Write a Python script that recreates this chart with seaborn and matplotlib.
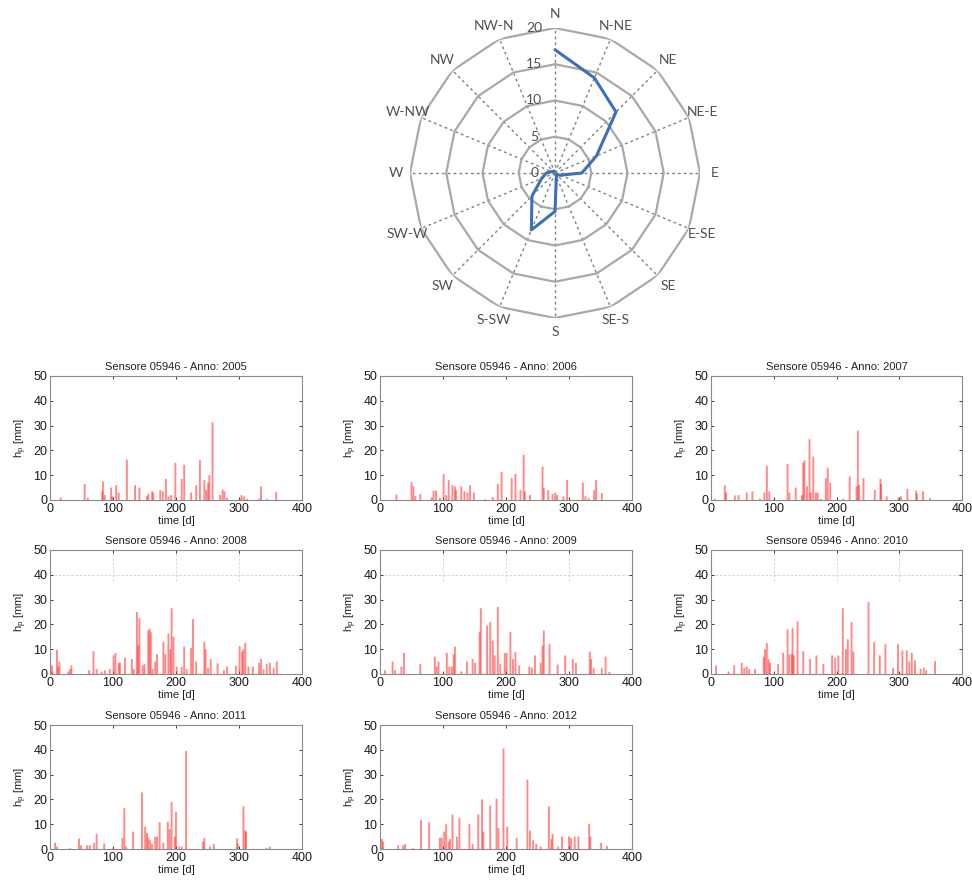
import numpy as np
import pandas as pd
import matplotlib
matplotlib.use('Agg')
import matplotlib.pyplot as plt
import seaborn as sns

# ---------------- data ----------------
directions = ['N', 'N-NE', 'NE', 'NE-E', 'E', 'E-SE', 'SE', 'SE-S',
              'S', 'S-SW', 'SW', 'SW-W', 'W', 'W-NW', 'NW', 'NW-N']
wind_freq = [17.0, 14.2, 11.9, 6.2, 3.7, 0.8, 0.3, 0.5,
             5.3, 8.5, 4.5, 2.0, 1.2, 0.5, 0.3, 0.3]
radial_ticks = [0, 5, 10, 15, 20]

years = [2005, 2006, 2007, 2008, 2009, 2010, 2011, 2012]

days_2005 = [17, 55, 60, 83, 84, 87, 97, 99, 105, 109, 122, 135, 142, 154, 156, 162, 164, 175, 179, 184,
             188, 192, 199, 209, 213, 224, 232, 238, 245, 248, 251, 253, 258, 270, 274, 277, 281, 302, 304,
             308, 313, 332, 335, 344, 359]
rain_2005 = [1, 6.5, 1, 3.5, 7.5, 2, 5, 1.5, 6, 3, 16.3, 6, 5, 1.5, 2.5, 3.5, 3, 4, 3.5, 8.5,
             1.5, 2, 15, 8.5, 14.2, 3, 6, 16, 8, 4, 7, 10, 31.3, 2, 4.2, 3.5, 1, 0.5, 2,
             1.5, 0.5, 0.5, 5.5, 0.5, 3.2]

days_2006 = [26, 50, 53, 56, 64, 82, 85, 89, 95, 101, 105, 109, 115, 119, 121, 129, 134, 139, 143, 149,
             167, 179, 187, 193, 209, 215, 223, 228, 230, 238, 258, 260, 267, 274, 278, 281, 291, 297,
             322, 326, 331, 340, 343, 352]
rain_2006 = [2.2, 7.2, 5.5, 1.5, 2.5, 1, 3.8, 3.8, 0.8, 10.5, 2, 8, 6, 5.5, 4, 5.5, 3.5, 3, 6, 3,
             0.3, 1.2, 6.5, 11.3, 8.8, 10.5, 4, 18.2, 3.5, 2, 13.5, 5, 4, 2.5, 3, 2, 1.5, 8,
             7, 1.5, 0.8, 4, 8, 2.8]

days_2007 = [6, 22, 24, 38, 44, 57, 66, 78, 85, 89, 93, 101, 122, 125, 135, 145, 147, 149, 153, 157,
             159, 163, 167, 170, 175, 183, 186, 190, 211, 221, 232, 234, 236, 243, 261, 270, 271, 280,
             299, 303, 313, 327, 328, 338, 349]
rain_2007 = [0.5, 6, 3, 1.8, 2, 3, 3.5, 0.5, 3, 13.8, 3.5, 0.5, 14.5, 3, 5, 2, 15, 16, 5.5, 24.5,
             3, 17.5, 3, 3, 0.5, 8.8, 13, 7, 0.5, 9.5, 5.5, 28, 6, 8.8, 4, 8.5, 6.5, 1.5,
             1, 1.5, 4.5, 3.8, 2.5, 3.5, 0.8]

days_2008 = [3, 4, 11, 13, 15, 29, 32, 34, 62, 69, 74, 82, 87, 95, 101, 104, 109, 111, 119, 130, 133,
             138, 140, 142, 147, 150, 156, 158, 160, 163, 167, 170, 180, 183, 188, 191, 193, 196, 201,
             209, 213, 217, 224, 227, 232, 245, 247, 251, 255, 266, 276, 281, 295, 301, 305, 307, 310,
             315, 322, 332, 335, 339, 344, 349, 355, 360]
rain_2008 = [3.5, 1, 9.8, 3, 5, 1, 2, 3.5, 1.5, 9.2, 2, 1, 1.5, 2, 7.5, 8.5, 4.5, 4.5, 6.5, 6, 2,
             25, 11.5, 22.5, 3.5, 4, 17.5, 18.3, 16.8, 2, 5, 8, 13, 8, 16.3, 10, 26.5, 15, 3,
             2.8, 11, 2, 10.5, 22.2, 5, 13, 10, 2.5, 6, 4.3, 1.5, 3, 3.3, 11.2, 9, 10, 12.5,
             3, 3, 4.5, 6, 2, 4, 4.5, 2.5, 5]

days_2009 = [8, 20, 24, 34, 38, 64, 87, 90, 93, 106, 110, 114, 117, 119, 129, 138, 147, 151, 158, 160,
             170, 175, 179, 182, 187, 191, 198, 201, 207, 211, 215, 221, 237, 241, 246, 255, 258, 260,
             269, 282, 294, 306, 311, 333, 335, 339, 352, 358, 364]
rain_2009 = [1.5, 5, 1.5, 3, 8.5, 4, 7, 3, 5, 8.5, 3, 3, 8, 11, 1, 5, 6, 4.5, 17, 26.5,
             19.5, 21, 13.5, 7.5, 27, 4, 8.5, 8.5, 17, 6, 8.8, 3.5, 3, 2.5, 7.5, 4.5, 11.5, 17.5,
             12, 3.8, 7.5, 6, 4.5, 9, 6, 2.5, 2.5, 7, 0.8]

days_2010 = [8, 28, 37, 49, 53, 57, 61, 70, 84, 86, 89, 92, 94, 107, 115, 122, 125, 129, 130, 132,
             138, 147, 158, 168, 179, 193, 198, 203, 210, 215, 218, 224, 227, 251, 260, 269, 278, 290,
             298, 305, 312, 316, 320, 325, 334, 339, 343, 357]
rain_2010 = [3.5, 1, 3.5, 4.5, 2.5, 3, 2, 2, 7, 10, 12.5, 6, 4.5, 4, 8.5, 18, 8, 8, 18.5, 7.5,
             21.2, 9.2, 6, 7.5, 4, 7.5, 6.5, 7.5, 26.5, 10, 14, 21, 9, 29, 12.8, 7.5, 12, 2.5,
             12.2, 9.5, 9.5, 5, 8.5, 5.5, 2, 2.5, 1.5, 5.2]

days_2011 = [8, 11, 32, 46, 49, 59, 63, 70, 74, 86, 100, 115, 118, 121, 132, 146, 151, 154, 156, 159,
             162, 167, 170, 174, 180, 187, 190, 193, 198, 200, 205, 209, 216, 243, 245, 254, 260, 297,
             298, 307, 310, 311, 344, 349]
rain_2011 = [2.5, 1, 0.3, 4.2, 1.5, 1.5, 1.5, 2.5, 6, 2.2, 0.3, 4.5, 16.5, 1, 7, 22.8, 9, 6.5, 4.5, 3.5,
             2, 5, 5, 10.8, 2.5, 11, 8, 19, 5, 15, 1, 1, 39.5, 3, 4.5, 1, 2, 4.3,
             2, 17.2, 7.5, 7, 0.5, 1]

days_2012 = [3, 5, 29, 37, 40, 52, 65, 78, 95, 98, 102, 105, 109, 111, 115, 122, 126, 142, 147, 156,
             162, 164, 175, 185, 188, 196, 202, 217, 234, 238, 243, 248, 255, 268, 272, 274, 283, 289,
             300, 303, 309, 315, 332, 334, 351, 360]
rain_2012 = [4, 3, 1.5, 1.5, 2, 0.3, 11.8, 10.8, 4.5, 4.5, 7, 10, 3, 4, 13.8, 5, 12.5, 10, 2, 14,
             20, 7, 17.5, 20.3, 8.5, 40.5, 9, 4.5, 28, 7.5, 3.5, 2, 1, 17.2, 4, 6, 1, 5,
             5, 4.5, 5, 5, 10.2, 5, 2.5, 1.2]

x_ticks = [0, 100, 200, 300, 400]
y_ticks = [0, 10, 20, 30, 40, 50]

rain_days = [days_2005, days_2006, days_2007, days_2008, days_2009, days_2010, days_2011, days_2012]
rain_vals = [rain_2005, rain_2006, rain_2007, rain_2008, rain_2009, rain_2010, rain_2011, rain_2012]

# ---------------- figure ----------------
sns.set_theme(style='white')
plt.rcParams['font.family'] = ['Liberation Sans', 'DejaVu Sans']
plt.rcParams['mathtext.default'] = 'regular'

W, H = 972, 882
fig = plt.figure(figsize=(W / 100, H / 100), dpi=100)
fig.patch.set_facecolor('white')

# ---- polar (wind rose) ----
cx, cy, R = 555, 173, 145
axp = fig.add_axes([(cx - R) / W, (H - cy - R) / H, 2 * R / W, 2 * R / H], projection='polar')
axp.set_facecolor('none')
axp.set_theta_zero_location('N')
axp.set_theta_direction(-1)
theta = np.deg2rad(np.arange(len(directions)) * 22.5)
axp.set_ylim(0, radial_ticks[-1])
axp.set_yticks([])
axp.set_xticks(theta)
axp.set_xticklabels([])
axp.xaxis.grid(True, linestyle=(0, (2, 2.2)), color='#808080', lw=1.0)
axp.yaxis.grid(False)
axp.spines['polar'].set_visible(False)
theta_c = np.append(theta, theta[0])
for r in radial_ticks[1:]:
    axp.plot(theta_c, [r] * len(theta_c), color='#a8a8a8', lw=1.6, zorder=1)
for th, lab in zip(theta, directions):
    axp.text(th, radial_ticks[-1] * 1.1, lab, ha='center', va='center', fontsize=10,
             color='#505050', family=['Lato', 'DejaVu Sans'], clip_on=False)
for v in radial_ticks:
    axp.annotate(str(v), xy=(0, v), xytext=(-15, 0), textcoords='offset points',
                 ha='center', va='center', fontsize=10, color='#505050',
                 family=['Lato', 'DejaVu Sans'], zorder=5)
wind_df = pd.DataFrame({'theta': theta_c, 'freq': np.append(wind_freq, wind_freq[0])})
sns.lineplot(data=wind_df, x='theta', y='freq', sort=False, ax=axp, color='#3d70b5', lw=2.2, zorder=4)
axp.set_xlabel('')
axp.set_ylabel('')

# ---- rain subplots ----
col_left = [50, 380, 711]
col_w = [252, 252, 251]
row_top = [376, 550, 725]
ax_h = 124

for i, (yr, d, v) in enumerate(zip(years, rain_days, rain_vals)):
    rr, cc = divmod(i, 3)
    l = col_left[cc]
    t = row_top[rr]
    ax = fig.add_axes([l / W, (H - t - ax_h) / H, col_w[cc] / W, ax_h / H])
    df = pd.DataFrame({'day': d, 'hp': v})
    sns.barplot(data=df, x='day', y='hp', native_scale=True, orient='x', color='red',
                saturation=1, errorbar=None, ax=ax, linewidth=0, edgecolor='none')
    for ln in list(ax.lines):
        ln.remove()
    for p in ax.patches:
        c = p.get_x() + p.get_width() / 2
        p.set_width(3.0)
        p.set_x(c - 1.5)
        p.set_facecolor((1.0, 0.15, 0.15, 0.55))
        p.set_edgecolor('none')
        p.set_linewidth(0)
        p.set_snap(False)
    ax.set_xlim(x_ticks[0], x_ticks[-1])
    ax.set_ylim(y_ticks[0], y_ticks[-1])
    ax.set_xticks(x_ticks)
    ax.set_yticks(y_ticks)
    ax.tick_params(direction='in', length=2.5, width=0.6, labelsize=9, pad=2,
                   top=True, right=True, bottom=True, left=True, colors='#1a1a1a')
    for s in ax.spines.values():
        s.set_color('#8a8a8a')
        s.set_linewidth(0.8)
    ax.set_title(f'Sensore 05946 - Anno: {yr}', fontsize=8, pad=4, color='#222222')
    ax.set_xlabel('time [d]', fontsize=8, labelpad=1, color='#222222')
    ax.set_ylabel(r'h$_p$ [mm]', fontsize=8, labelpad=3, color='#222222')
    if rr == 1:
        ax.vlines(x_ticks[1:-1], 37.5, y_ticks[-1], colors='#d0d0d0', linestyles=(0, (3, 2)), lw=0.6, zorder=0)
        ax.hlines(y_ticks[4], x_ticks[0], x_ticks[-1], colors='#d0d0d0', linestyles=(0, (3, 2)), lw=0.6, zorder=0)

fig.savefig('out.png', dpi=100, facecolor='white')
